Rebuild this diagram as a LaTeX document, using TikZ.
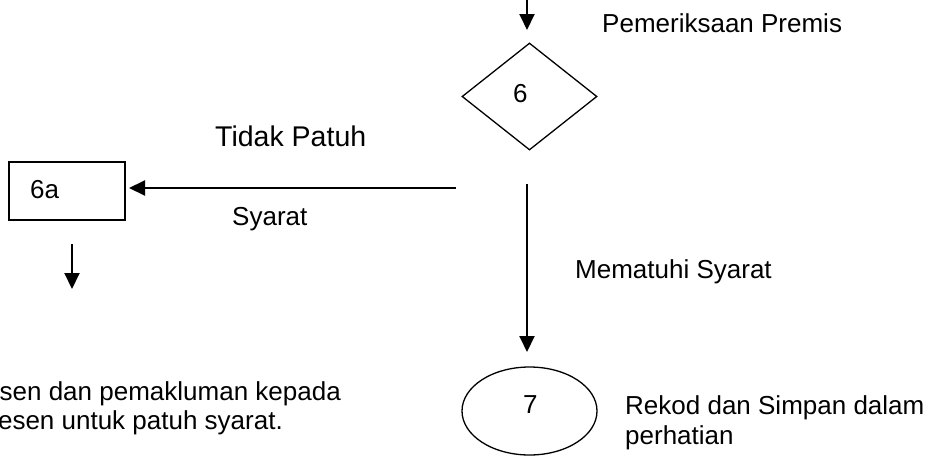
\documentclass[tikz,border=0pt]{standalone}
\usepackage{fontspec}
\setmainfont{Liberation Sans}
\usetikzlibrary{shapes.geometric,arrows.meta}
\begin{document}
\begin{tikzpicture}[x=1pt,y=-1pt,
  flow/.style={line width=2pt,-{Triangle[length=16pt,width=15pt]}},
  shapeline/.style={draw,line width=1.3pt,inner sep=0pt},
  lbl/.style={inner sep=0pt,font=\fontsize{26}{31}\selectfont},
  biglbl/.style={inner sep=0pt,font=\fontsize{28.5}{34}\selectfont}]
\useasboundingbox (0,0) rectangle (933,455);
% shapes
\node[shapeline,diamond,minimum width=135pt,minimum height=107pt,aspect=1.26] (d6) at (529.5,96.5) {};
\node[shapeline,rectangle,minimum width=116pt,minimum height=58pt] (b6a) at (67,191) {};
\node[shapeline,ellipse,minimum width=135pt,minimum height=88pt] (e7) at (529.5,411) {};
% texts in shapes
\node[lbl,anchor=base west] (t6) at (513,102) {6};
\node[lbl,anchor=base west] (t6a) at (30,198) {6a};
\node[lbl,anchor=base west] (t7) at (523,413) {7};
% labels
\node[lbl,anchor=base west] (lprem) at (602,32) {Pemeriksaan Premis};
\node[biglbl,anchor=base west] (ltidak) at (215,146) {Tidak Patuh};
\node[lbl,anchor=base west] (lsyarat) at (232,225) {Syarat};
\node[lbl,anchor=base west] (lmem) at (575,278) {Mematuhi Syarat};
\node[lbl,anchor=base west] (lrek1) at (625,414) {Rekod dan Simpan dalam};
\node[lbl,anchor=base west] (lrek2) at (625,444) {perhatian};
\node[lbl,anchor=base east] (lles1) at (341,400) {sen dan pemakluman kepada};
\node[lbl,anchor=base east] (lles2) at (283,429) {esen untuk patuh syarat.};
% connector ends
\coordinate (top) at (527,0);
\coordinate (topend) at (527,30);
\coordinate (hstart) at (456,188);
\coordinate (hend) at (129,188);
\coordinate (vstart) at (527,184);
\coordinate (vend) at (527,352);
\coordinate (dstart) at (72,244);
\coordinate (dend) at (72,289);
% connectors
\draw[flow] (top) -- (topend);
\draw[flow] (hstart) -- (hend);
\draw[flow] (vstart) -- (vend);
\draw[flow] (dstart) -- (dend);
\end{tikzpicture}
\end{document}
